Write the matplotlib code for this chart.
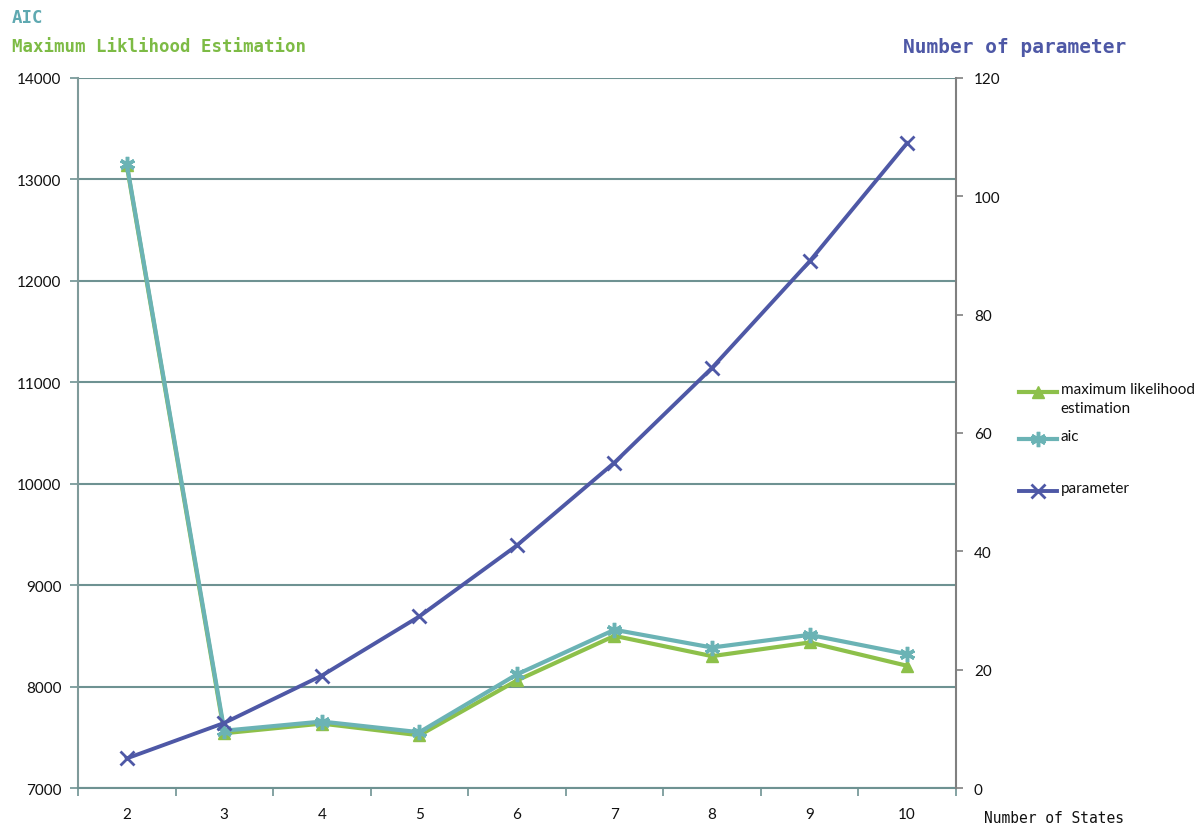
import matplotlib.pyplot as plt
from matplotlib.lines import Line2D

states = [2, 3, 4, 5, 6, 7, 8, 9, 10]
mle = [13140, 7540, 7635, 7520, 8060, 8500, 8300, 8435, 8205]
aic = [13155, 7565, 7655, 7550, 8120, 8560, 8385, 8510, 8320]
params = [5, 11, 19, 29, 41, 55, 71, 89, 109]

labels = ['maximum likelihood\nestimation', 'aic', 'parameter']

c_mle = '#8DC04A'
c_aic = '#6BB3B5'
c_par = '#4E58A6'
c_grid = '#6E9292'

fig = plt.figure(figsize=(11.96, 8.28), dpi=100)
ax = fig.add_axes([0.0652, 0.0471, 0.734, 0.8575])
ax2 = ax.twinx()

styles = [
    dict(color=c_mle, lw=3, marker='^', ms=8, mec=c_mle),
    dict(color=c_aic, lw=3, marker=(6, 2, 0), ms=11, mew=2.5, mec=c_aic),
    dict(color=c_par, lw=2.8, marker='x', ms=10, mew=2),
]

ax.plot(states, mle, zorder=3, **styles[0])
ax.plot(states, aic, zorder=4, **styles[1])
ax2.plot(states, params, zorder=3, **styles[2])

ax.set_xlim(1.5, 10.5)
ax.set_ylim(7000, 14000)
ax.set_yticks(range(7000, 14001, 1000))
ax2.set_ylim(0, 120)
ax2.set_yticks(range(0, 121, 20))

ax.set_xticks(states)
ax.set_xticks([s + 0.5 for s in [1] + states], minor=True)
ax.tick_params(axis='x', which='major', length=0, pad=14)
ax.tick_params(axis='x', which='minor', length=6, color=c_grid, width=1.2)
ax.tick_params(axis='y', length=6, color=c_grid, width=1.2, pad=6)
ax2.tick_params(axis='y', length=5, color='#808080', width=1.2, pad=8)

for t in ax.get_xticklabels() + ax.get_yticklabels() + ax2.get_yticklabels():
    t.set_fontfamily('Lato')
    t.set_fontsize(11)
    t.set_color('#111111')

ax.grid(axis='y', color=c_grid, lw=1.5)
for s in ['top', 'right']:
    ax.spines[s].set_visible(False)
ax.spines['left'].set_color('#7F9A9A')
ax.spines['bottom'].set_color(c_grid)
ax.spines['left'].set_linewidth(1.5)
ax.spines['bottom'].set_linewidth(1.5)
for s in ['top', 'left', 'bottom']:
    ax2.spines[s].set_visible(False)
ax2.spines['right'].set_color('#808080')
ax2.spines['right'].set_linewidth(1.5)

fig.text(0.010, 0.978, 'AIC', color='#5FA9B1', fontsize=12.5,
         family='DejaVu Sans Mono', weight='bold', va='center')
fig.text(0.010, 0.943, 'Maximum Liklihood Estimation', color='#7DBB45', fontsize=12.5,
         family='DejaVu Sans Mono', weight='bold', va='center')
fig.text(0.755, 0.943, 'Number of parameter', color=c_par, fontsize=14,
         family='DejaVu Sans Mono', weight='bold', va='center')
fig.text(0.823, 0.012, 'Number of States', color='#111111', fontsize=10.5,
         family='DejaVu Sans Mono', va='center')

# legend drawn by hand so the handle sits on the first text line
leg_y = [0.525, 0.469, 0.406]
for st, lab, y in zip(styles, labels, leg_y):
    fig.add_artist(Line2D([0.852, 0.868, 0.884], [y, y, y], transform=fig.transFigure,
                          markevery=[1], **st))
    fig.text(0.887, y + 0.012, lab, fontsize=11, family='Lato', va='top',
             color='#111111', linespacing=1.45)

fig.savefig('out.png', dpi=100)
